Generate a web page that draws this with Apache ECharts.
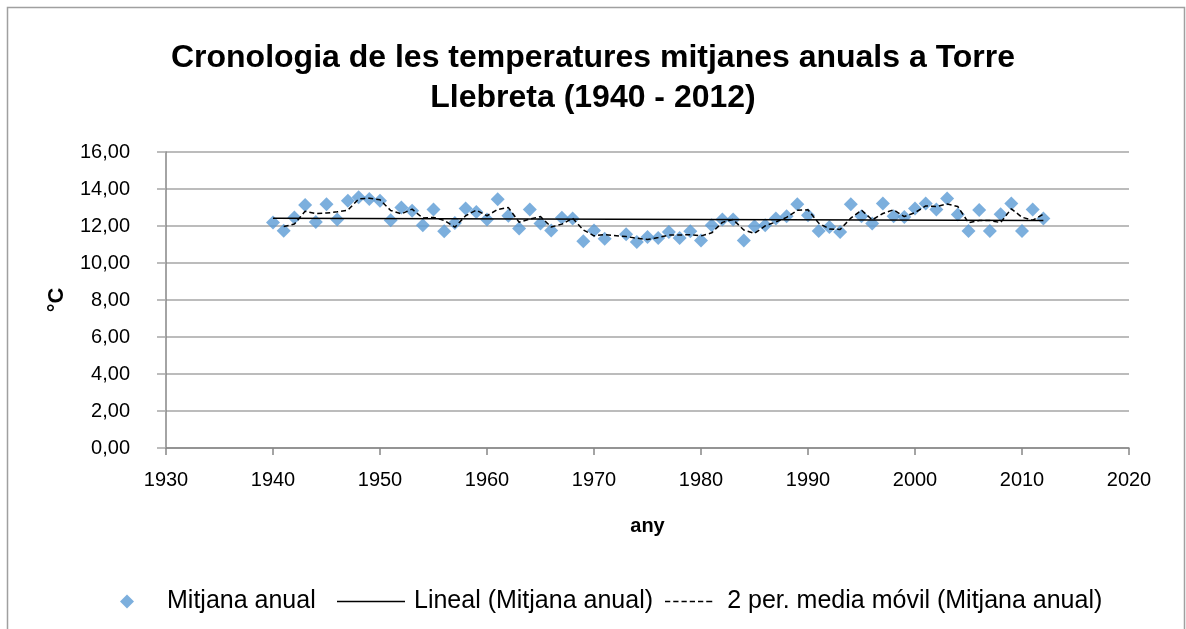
<!DOCTYPE html>
<html lang="ca">
<head>
    <meta charset="UTF-8">
    <title>Cronologia de les temperatures mitjanes anuals a Torre Llebreta</title>
    <script src="https://cdn.jsdelivr.net/npm/echarts@6/dist/echarts.min.js"></script>
    <style>
        html, body { margin: 0; padding: 0; background: #fff; }
        #main { width: 1186px; height: 629px; }
    </style>
</head>
<body>
<div id="main"></div>

<script>
    // anys i mitjana anual (°C); 1972 sense dada
    const years = [];
    for (let y = 1940; y <= 2012; y++) years.push(y);

    const temps = [
        12.19, 11.75, 12.46, 13.13, 12.22, 13.18, 12.35, 13.37, 13.55, 13.46,
        13.37, 12.31, 13.00, 12.82, 12.04, 12.89, 11.71, 12.16, 12.95, 12.76,
        12.35, 13.44, 12.55, 11.86, 12.89, 12.13, 11.76, 12.44, 12.40, 11.18,
        11.76, 11.31, null, 11.55, 11.13, 11.40, 11.35, 11.67, 11.35, 11.71,
        11.22, 12.04, 12.35, 12.35, 11.22, 11.98, 12.04, 12.40, 12.53, 13.17,
        12.58, 11.73, 11.95, 11.67, 13.18, 12.53, 12.13, 13.22, 12.53, 12.49,
        12.95, 13.22, 12.89, 13.49, 12.62, 11.73, 12.86, 11.73, 12.64, 13.22,
        11.73, 12.89, 12.40
    ];

    const yTicks = [0, 2, 4, 6, 8, 10, 12, 14, 16];
    const xTicks = [1930, 1940, 1950, 1960, 1970, 1980, 1990, 2000, 2010, 2020];

    const names = ['Mitjana anual', 'Lineal (Mitjana anual)', '2 per. media móvil (Mitjana anual)'];

    // punts valids
    const pts = years.map((y, i) => [y, temps[i]]).filter(p => p[1] !== null);

    // tendencia lineal (minims quadrats)
    const n = pts.length;
    let sx = 0, sy = 0, sxx = 0, sxy = 0;
    pts.forEach(p => { sx += p[0]; sy += p[1]; sxx += p[0] * p[0]; sxy += p[0] * p[1]; });
    const slope = (n * sxy - sx * sy) / (n * sxx - sx * sx);
    const icpt = (sy - slope * sx) / n;
    const first = years[0], last = years[years.length - 1];
    const trend = [[first, icpt + slope * first], [last, icpt + slope * last]];

    // mitjana mobil de 2 periodes
    const moving = [];
    for (let i = 1; i < pts.length; i++) {
        moving.push([pts[i][0], (pts[i][1] + pts[i - 1][1]) / 2]);
    }

    const FONT = '"Liberation Sans", Arial, sans-serif';
    const GRID = '#a6a6a6';
    const LEG_FS = 25;
    // icones de llegenda: linia continua i linia discontinua
    const dashIcon = 'path://M0,0h7v2h-7z M11,0h7v2h-7z M22,0h7v2h-7z M33,0h7v2h-7z M44,0h7v2h-7z M55,0h8v2h-8z';

    let myChart = echarts.init(document.getElementById('main'));
    let option = {
        backgroundColor: '#fff',
        animation: false,
        textStyle: { fontFamily: FONT, color: '#000' },
        title: {
            text: 'Cronologia de les temperatures mitjanes anuals a Torre\nLlebreta (1940 - 2012)',
            left: 'center',
            top: 33,
            textStyle: {
                fontFamily: FONT,
                fontSize: 32,
                fontWeight: 'bold',
                color: '#000',
                lineHeight: 40
            }
        },
        graphic: [{
            type: 'rect',
            shape: { x: 7.5, y: 7.5, width: 1177, height: 700 },
            style: { fill: 'none', stroke: '#a0a0a0', lineWidth: 1.5 },
            silent: true
        }],
        grid: { left: 166, right: 57, top: 152, bottom: 181 },
        xAxis: {
            type: 'value',
            min: xTicks[0],
            max: xTicks[xTicks.length - 1],
            interval: 10,
            name: 'any',
            nameLocation: 'middle',
            nameGap: 68,
            nameTextStyle: { fontFamily: FONT, fontSize: 20, fontWeight: 'bold', color: '#000' },
            axisLine: { show: true, lineStyle: { color: '#868686', width: 1.5 } },
            axisTick: { show: true, length: 7, lineStyle: { color: '#868686', width: 1.5 } },
            axisLabel: {
                fontFamily: FONT, fontSize: 20, color: '#000', margin: 22,
                formatter: v => String(v)
            },
            splitLine: { show: false }
        },
        yAxis: {
            type: 'value',
            min: yTicks[0],
            max: yTicks[yTicks.length - 1],
            interval: 2,
            name: '°C',
            nameLocation: 'middle',
            nameRotate: 90,
            nameGap: 98,
            nameTextStyle: { fontFamily: FONT, fontSize: 22, fontWeight: 'bold', color: '#000' },
            axisLine: { show: true, lineStyle: { color: '#868686', width: 1.5 } },
            axisTick: { show: true, length: 9, lineStyle: { color: GRID, width: 1.5 } },
            axisLabel: {
                fontFamily: FONT, fontSize: 20, color: '#000', margin: 36,
                formatter: v => v.toFixed(2).replace('.', ',')
            },
            splitLine: { show: true, lineStyle: { color: GRID, width: 1.5 } }
        },
        legend: [
            {
                data: [{ name: names[0], icon: 'diamond' }],
                left: 115, top: 584,
                itemWidth: 14, itemHeight: 14,
                textStyle: { fontFamily: FONT, fontSize: LEG_FS, color: '#000', padding: [0, 0, 0, 28] }
            },
            {
                data: [{ name: names[1], icon: 'rect' }],
                left: 332, top: 584,
                itemWidth: 68, itemHeight: 1.5,
                itemStyle: { color: '#000' },
                textStyle: { fontFamily: FONT, fontSize: LEG_FS, color: '#000', padding: [0, 0, 0, 4] }
            },
            {
                data: [{ name: names[2], icon: dashIcon }],
                left: 660, top: 584,
                itemWidth: 63, itemHeight: 1.5,
                itemStyle: { color: '#000' },
                textStyle: { fontFamily: FONT, fontSize: LEG_FS, color: '#000', padding: [0, 0, 0, 2] }
            }
        ],
        series: [
            {
                name: names[0],
                type: 'scatter',
                symbol: 'diamond',
                symbolSize: 14,
                itemStyle: { color: '#5b9bd5' },
                data: pts,
                z: 3
            },
            {
                name: names[1],
                type: 'line',
                symbol: 'none',
                lineStyle: { color: '#000', width: 1.5 },
                itemStyle: { color: '#000' },
                data: trend,
                z: 4
            },
            {
                name: names[2],
                type: 'line',
                symbol: 'none',
                lineStyle: { color: '#000', width: 1.5, type: [5, 3] },
                itemStyle: { color: '#000' },
                data: moving,
                z: 4
            }
        ]
    };
    // pintar el grafic
    myChart.setOption(option);
</script>
</body>
</html>
